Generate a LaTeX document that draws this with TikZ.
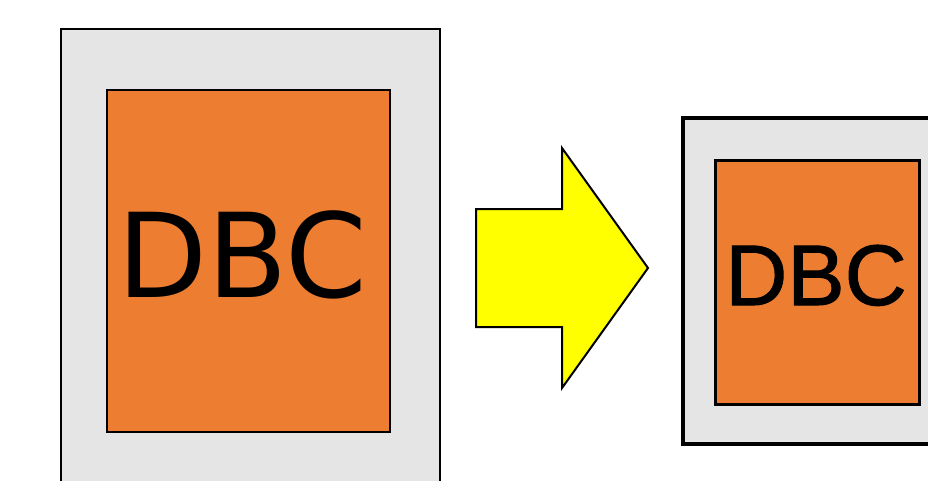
\documentclass[tikz,border=0pt]{standalone}
\usepackage{fontspec}
\newfontfamily\djv{DejaVu Sans}
\newfontfamily\lib[FakeBold=1.2]{Liberation Sans}
\definecolor{boxgray}{HTML}{E5E5E5}
\definecolor{dbcorange}{HTML}{ED7D31}
\definecolor{arrowyellow}{HTML}{FFFF00}
\begin{document}
\begin{tikzpicture}[x=1pt,y=-1pt,
  outerbox/.style={draw=black,fill=boxgray},
  innerbox/.style={draw=black,fill=dbcorange},
  bigarrow/.style={draw=black,fill=arrowyellow,line width=2pt,line join=miter}]
\useasboundingbox (0,0) rectangle (928,480);
\begin{scope}
\clip (0,0) rectangle (928,480);
% left
\draw[outerbox,line width=2.5pt] (61,29) rectangle (440,500);
\draw[innerbox,line width=2.5pt] (107,90) rectangle (390,432);
\node[anchor=base,inner sep=0pt,font=\djv\fontsize{117}{117}\selectfont] (ltext) at (242,297) {DBC};
% arrow
\draw[bigarrow] (476,209) -- (562,209) -- (562,148) -- (648,268) -- (562,388) -- (562,327) -- (476,327) -- cycle;
% right
\draw[outerbox,line width=3.5pt] (683,118) rectangle (940,444);
\draw[innerbox,line width=3pt] (715,160) rectangle (919,404);
\node[anchor=base,inner sep=0pt,font=\lib\fontsize{86}{86}\selectfont] (rtext) at (816,305) {DBC};
\end{scope}
\end{tikzpicture}
\end{document}
